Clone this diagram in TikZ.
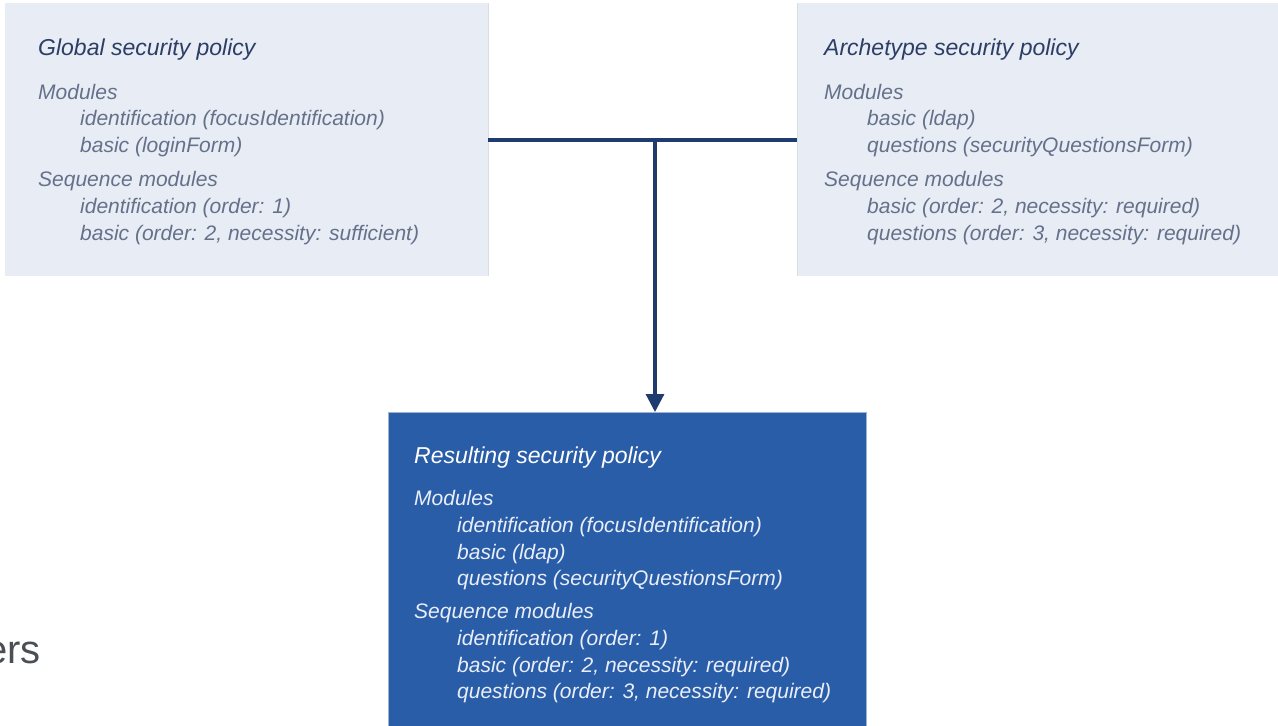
\documentclass[tikz,border=0pt]{standalone}
\usepackage{fontspec}
\setmainfont{Liberation Sans}
\usetikzlibrary{arrows.meta}
\definecolor{lightfill}{HTML}{E8EDF5}
\definecolor{lightedge}{HTML}{D9DEE6}
\definecolor{darkfill}{HTML}{2A5DA8}
\definecolor{darkedge}{HTML}{9FB3D3}
\definecolor{ttlcol}{HTML}{2C3E66}
\definecolor{txtcol}{HTML}{65718A}
\definecolor{wtxt}{HTML}{E9EEF8}
\definecolor{linkcol}{HTML}{1F3B70}
\definecolor{greytxt}{HTML}{4A4F55}
\tikzset{
  x=1pt, y=-1pt,
  lightbox/.style={fill=lightfill, draw=none, anchor=north west, inner sep=0pt},
  darkbox/.style={fill=darkfill, draw=darkedge, line width=0.8pt, anchor=north west, inner sep=0pt},
  ttl/.style={anchor=base west, inner sep=0pt, text=ttlcol, font=\fontsize{23}{27}\selectfont\itshape},
  txt/.style={anchor=base west, inner sep=0pt, text=txtcol, font=\fontsize{21}{25}\selectfont\itshape},
  ttlw/.style={ttl, text=white},
  txtw/.style={txt, text=wtxt},
  link/.style={draw=linkcol, line width=3.2pt},
}
\begin{document}
\begin{tikzpicture}
\useasboundingbox (0,0) rectangle (1278,726);
\clip (0,0) rectangle (1278,726);
% boxes
\node[lightbox, minimum width=483pt, minimum height=273pt] (g) at (5,3) {};
\draw[lightedge, line width=0.8pt] (g.north east) -- (g.south east);
\node[lightbox, minimum width=481pt, minimum height=273pt] (a) at (797,3) {};
\draw[lightedge, line width=0.8pt] (a.north west) -- (a.south west);
\node[darkbox, minimum width=478pt, minimum height=330pt] (r) at (388,412) {};
% global
\node[ttl] (g0) at (38,55) {Global security policy};
\node[txt] (g1) at (38,99) {Modules};
\node[txt] (g2) at (80,125) {identification (focusIdentification)};
\node[txt] (g3) at (80,152) {basic (loginForm)};
\node[txt] (g4) at (38,186) {Sequence modules};
\node[txt] (g5) at (80,213) {identification (order: 1)};
\node[txt] (g6) at (80,240) {basic (order: 2, necessity: sufficient)};
% archetype
\node[ttl] (a0) at (824,55) {Archetype security policy};
\node[txt] (a1) at (824,99) {Modules};
\node[txt] (a2) at (867,125) {basic (ldap)};
\node[txt] (a3) at (867,152) {questions (securityQuestionsForm)};
\node[txt] (a4) at (824,186) {Sequence modules};
\node[txt] (a5) at (867,213) {basic (order: 2, necessity: required)};
\node[txt] (a6) at (867,240) {questions (order: 3, necessity: required)};
% resulting
\node[ttlw] (r0) at (414,463) {Resulting security policy};
\node[txtw] (r1) at (414,505) {Modules};
\node[txtw] (r2) at (457,532) {identification (focusIdentification)};
\node[txtw] (r3) at (457,559) {basic (ldap)};
\node[txtw] (r4) at (457,585) {questions (securityQuestionsForm)};
\node[txtw] (r5) at (414,618) {Sequence modules};
\node[txtw] (r6) at (457,645) {identification (order: 1)};
\node[txtw] (r7) at (457,672) {basic (order: 2, necessity: required)};
\node[txtw] (r8) at (457,698) {questions (order: 3, necessity: required)};
% connectors
\coordinate (j) at (655,140);
\draw[link] (g.east |- j) -- (a.west |- j);
\draw[link, -{Triangle[width=18pt,length=18pt]}] (j) -- (r.north -| j);
% cropped text at the left edge, as in the reference
\node[anchor=base east, inner sep=0pt, text=greytxt, font=\fontsize{40}{48}\selectfont] (ers) at (41,663) {ers};
\end{tikzpicture}
\end{document}
